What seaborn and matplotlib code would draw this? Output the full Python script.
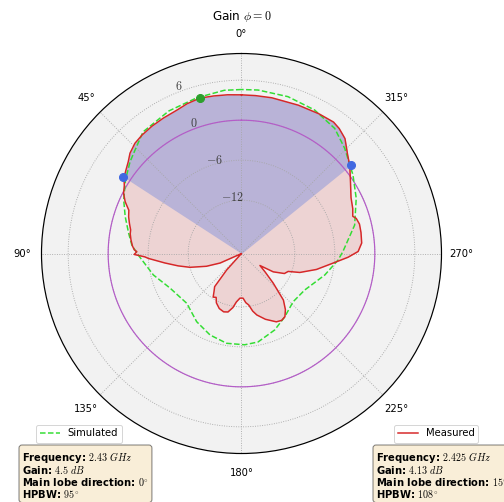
import numpy as np
import matplotlib
matplotlib.use('Agg')
import matplotlib.pyplot as plt
import seaborn as sns

plt.rcParams['font.family'] = ['DejaVu Sans']
plt.rcParams['mathtext.fontset'] = 'cm'

# measured pattern (angle in deg, gain in dB)
meas_deg = [0, 5, 10, 15, 20, 24, 30, 35, 40, 44, 48, 51, 54, 57, 60, 63, 66, 69,
            72, 75, 78, 80, 83, 86, 88, 89, 90.5, 92, 93, 97, 101, 105, 110, 114, 117,
            125, 135, 138, 141, 144, 147, 150, 153, 158, 163, 167, 171, 174, 178, 182,
            185, 188, 191, 194, 200, 207, 211, 214.5, 218, 222, 227, 232, 237, 240,
            245, 249, 252, 258, 264, 268, 271, 275, 280, 284, 287, 288.5, 292, 297,
            303, 309, 313, 318, 322, 325, 331, 339, 349, 355, 360]
meas_db = [3.8, 3.9, 4.0, 4.13, 3.9, 3.6, 3.45, 3.35, 3.2, 3.0, 2.5, 1.86, 1.4, 1.0,
           0.3, -0.15, -0.9, -1.9, -2.2, -2.6, -3.0, -3.05, -3.3, -3.6, -3.9, -4.3,
           -3.9, -5.5, -6.0, -8.4, -10.3, -12.0, -14.4, -16.5, -19.9, -20, -20, -16.7,
           -13.6, -13.0, -12.2, -12.4, -11.7, -11.1, -10.85, -11.0, -11.8, -12.7,
           -13.3, -13.3, -12.6, -12.2, -11.2, -10.5, -9.5, -8.5, -8.3, -8.5, -9.3,
           -10.6, -13.5, -15.5, -16.7, -14.5, -12.9, -12.5, -10.8, -8.5, -6.2, -4.0,
           -2.5, -1.9, -1.8, -1.76, -2.0, -2.4, -2.0, -1.56, -0.5, 0.9, 1.76, 3.2,
           3.8, 4.07, 3.96, 3.83, 3.8, 3.78, 3.8]

# simulated pattern
sim_deg = [0, 6, 16, 27, 39, 46, 50.5, 57.7, 65.6, 72.4, 79.8, 85.6, 90.8, 103.7,
           115.9, 132.3, 146.7, 158.9, 170.6, 182, 190.6, 203.5, 214.4, 226.9, 240,
           255.5, 266, 271, 284.1, 295.7, 305.2, 315.5, 323.3, 333, 343.5, 354.2, 360]
sim_db = [4.6, 4.62, 4.3, 4.0, 3.47, 2.24, 1.66, 0.6, -0.6, -1.7, -2.8, -3.5, -4.5,
          -6.4, -8.1, -8.9, -7.76, -6.9, -6.35, -6.3, -6.5, -7.5, -8.5, -9.4, -9.05,
          -7.1, -5.5, -4.8, -2.5, -0.9, 0.46, 2.1, 3.4, 4.16, 4.54, 4.65, 4.6]

peak_deg, peak_db = 15, 4.13
hp_deg = [57, 309]
hp_db = [1.13, 1.13]
ref_level = 0

rticks = [-12, -6, 0, 6]
rmin, rmax = -20, 10

meas_th = np.deg2rad(meas_deg)
sim_th = np.deg2rad(sim_deg)

fig = plt.figure(figsize=(7, 502 / 72), dpi=72)
ax = fig.add_axes([0.0823, 0.0966, 0.7937, 0.7968], projection='polar')
ax.set_theta_zero_location('N')
ax.set_facecolor('#f2f2f2')

# filled areas
ax.fill_between(meas_th, rmin, meas_db, color='tab:red', alpha=0.15, lw=0)
wedge = np.linspace(hp_deg[1] - 360, hp_deg[0], 200)
wedge_r = np.interp(wedge, meas_deg, meas_db, period=360)
ax.fill_between(np.deg2rad(wedge), rmin, wedge_r, color='royalblue', alpha=0.3, lw=0)

circ = np.linspace(0, 2 * np.pi, 361)
ax.plot(circ, np.full(circ.shape, ref_level), color='#b45cc8', lw=1.2)

sns.lineplot(x=sim_th, y=sim_db, ax=ax, color='#33dd33', linestyle='--', lw=1.5,
             sort=False, estimator=None, label='Simulated', legend=False)
sns.lineplot(x=meas_th, y=meas_db, ax=ax, color='#d62728', lw=1.5,
             sort=False, estimator=None, label='Measured', legend=False)

ax.plot(np.deg2rad(peak_deg), peak_db, 'o', color='#2ca02c', ms=8, zorder=5)
ax.plot(np.deg2rad(hp_deg), hp_db, 'o', color='royalblue', ms=8, zorder=5)

ax.set_ylim(rmin, rmax)
ax.set_yticks(rticks)
ax.set_yticklabels([f'${t}$' for t in rticks], fontsize=12, color='0.25')
ax.set_xticks(np.deg2rad(np.arange(0, 360, 45)))
ax.grid(color='0.65', linestyle=':', lw=0.9)
ax.spines['polar'].set_color('black')
ax.spines['polar'].set_linewidth(1.2)
ax.set_xlabel('')
ax.set_ylabel('')
ax.tick_params(axis='x', labelsize=10, pad=9)

fig.text(241.5 / 504, 1 - 16 / 502, r'Gain $\phi = 0$', fontsize=12,
         ha='center', va='center')

lines = ax.get_lines()
sim_line = [l for l in lines if l.get_label() == 'Simulated'][0]
meas_line = [l for l in lines if l.get_label() == 'Measured'][0]
fig.legend(handles=[sim_line], loc='center', bbox_to_anchor=(79 / 504, 1 - 433.5 / 502),
           fontsize=10)
fig.legend(handles=[meas_line], loc='center', bbox_to_anchor=(436 / 504, 1 - 433.5 / 502),
           fontsize=10)

box = dict(boxstyle='round', facecolor='wheat', alpha=0.5)
fig.text(22 / 504, 1 - 450 / 502,
         'Frequency: $2.43\\ GHz$\nGain: $4.5\\ dB$\nMain lobe direction: $0^{\\circ}$\nHPBW: $95^{\\circ}$',
         fontsize=10, fontweight='bold', va='top', ha='left', bbox=box, linespacing=0.95)
fig.text(376 / 504, 1 - 450 / 502,
         'Frequency: $2.425\\ GHz$\nGain: $4.13\\ dB$\nMain lobe direction: $15^{\\circ}$\nHPBW: $108^{\\circ}$',
         fontsize=10, fontweight='bold', va='top', ha='left', bbox=box, linespacing=0.95)

fig.savefig('out.png', dpi=72)
